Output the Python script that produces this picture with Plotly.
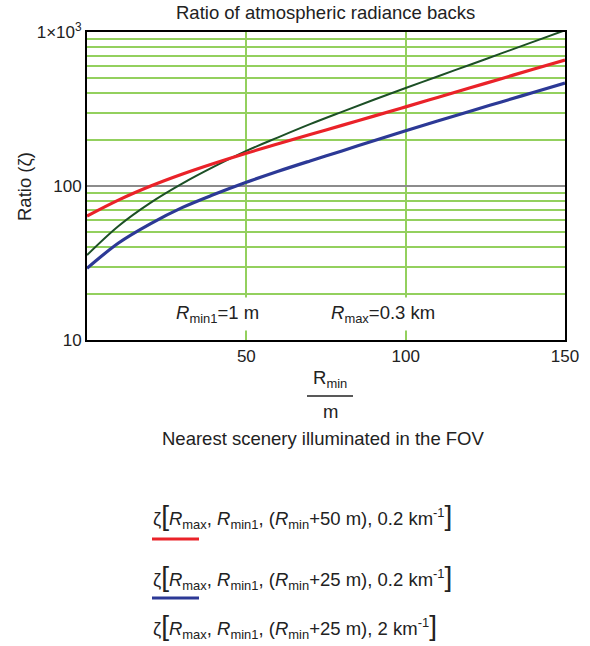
import plotly.graph_objects as go

# Data (R_min in m, ratio zeta)
r_min = [0, 10, 20, 30, 40, 50, 60, 70, 80, 90, 100, 110, 120, 130, 140, 150]
ratio_50m_02 = [63.8, 81.3, 100, 119.7, 140.6, 163.3, 187.9, 215.8, 247.7, 284.4, 326.6, 375.8, 432.5, 497.7, 572.8, 657.7]
ratio_25m_02 = [29.2, 42.8, 57.0, 72.6, 88.3, 105.7, 124.7, 145.5, 169.0, 196.8, 228.6, 264.2, 304.8, 351.6, 404.6, 465.6]
ratio_25m_2 = [35.6, 55.2, 78.0, 104, 134, 169, 207, 252, 303, 363, 433, 514, 611, 726, 863, 1026]

x_ticks = [50, 100, 150]
y_ticks = [10, 100, 1000]
y_tick_text = ["10", "100", "1×10<sup>3</sup>"]
y_minor = [20, 30, 40, 50, 60, 70, 80, 90, 200, 300, 400, 500, 600, 700, 800, 900]

FONT = "Liberation Sans, Arial, Helvetica, sans-serif"
W, H = 590, 646
L, T = 87, 32
PW, PH = 478, 308
R, B = W - L - PW, H - T - PH


def px(x):
    return (x - L) / PW


def py(y):
    return (H - B - y) / PH


fig = go.Figure()
fig.add_trace(go.Scatter(x=r_min, y=ratio_25m_2, mode="lines", line=dict(color="#1c4f26", width=2, shape="spline"),
                         showlegend=False))
fig.add_trace(go.Scatter(x=r_min, y=ratio_50m_02, mode="lines", line=dict(color="#ea2229", width=3.2, shape="spline"),
                         showlegend=False))
fig.add_trace(go.Scatter(x=r_min, y=ratio_25m_02, mode="lines", line=dict(color="#2c3996", width=3.2, shape="spline"),
                         showlegend=False))

fig.update_xaxes(range=[0, 150], tickmode="array", tickvals=x_ticks, ticks="",
                 showgrid=True, gridcolor="#93d05e", gridwidth=2,
                 showline=True, mirror=True, linecolor="black", linewidth=2,
                 zeroline=False, tickfont=dict(size=17, color="#222"))
fig.update_yaxes(type="log", range=[1, 3], tickmode="array", tickvals=y_ticks, ticktext=y_tick_text, ticks="",
                 showgrid=True, gridcolor="#8c8c8c", gridwidth=2,
                 minor=dict(tickmode="array", tickvals=y_minor, showgrid=True, gridcolor="#93d05e", gridwidth=2, ticks=""),
                 showline=True, mirror=True, linecolor="black", linewidth=2,
                 zeroline=False, tickfont=dict(size=17, color="#222"))

ann = []
def add(text, x, y, size=18.5, xanchor="center", **kw):
    ann.append(dict(text=text, x=px(x), y=py(y), xref="paper", yref="paper", showarrow=False,
                    xanchor=xanchor, yanchor="middle", font=dict(size=size, family=FONT, color="#222"), **kw))

add("Ratio of atmospheric radiance backs", 325, 13)
add("Ratio (ζ)", 24, 186, textangle=-90)
add("<i>R</i><sub>min1</sub>=1 m", 217, 314, bgcolor="white", borderpad=4)
add("<i>R</i><sub>max</sub>=0.3 km", 383, 314, bgcolor="white", borderpad=4)
add("R<sub>min</sub>", 330, 379)
add("m", 330, 411)
add("Nearest scenery illuminated in the FOV", 323, 438)

BR_L = '<span style="font-size:28px">[</span>'
BR_R = '<span style="font-size:28px">]</span>'
legend_texts = [
    "ζ" + BR_L + "<i>R</i><sub>max</sub>, <i>R</i><sub>min1</sub>, (<i>R</i><sub>min</sub>+50 m), 0.2 km<sup>-1</sup>" + BR_R,
    "ζ" + BR_L + "<i>R</i><sub>max</sub>, <i>R</i><sub>min1</sub>, (<i>R</i><sub>min</sub>+25 m), 0.2 km<sup>-1</sup>" + BR_R,
    "ζ" + BR_L + "<i>R</i><sub>max</sub>, <i>R</i><sub>min1</sub>, (<i>R</i><sub>min</sub>+25 m), 2 km<sup>-1</sup>" + BR_R,
]
legend_y = [516, 577, 626]
for t, yy in zip(legend_texts, legend_y):
    add(t, 151, yy, xanchor="left")

shapes = [
    dict(type="line", xref="paper", yref="paper", x0=px(307), x1=px(353), y0=py(396), y1=py(396),
         line=dict(color="#222", width=1.3)),
    dict(type="line", xref="paper", yref="paper", x0=px(152), x1=px(199), y0=py(539), y1=py(539),
         line=dict(color="#ea2229", width=3)),
    dict(type="line", xref="paper", yref="paper", x0=px(152), x1=px(199), y0=py(598), y1=py(598),
         line=dict(color="#2c3996", width=3)),
]

fig.update_layout(width=W, height=H, margin=dict(l=L, r=R, t=T, b=B, autoexpand=False),
                  paper_bgcolor="white", plot_bgcolor="white",
                  font=dict(family=FONT, size=18.5, color="#222"),
                  annotations=ann, shapes=shapes, showlegend=False)

fig.write_html("out.html", config={"displayModeBar": False},
               post_script="document.body.style.margin='0';document.body.style.overflow='hidden';")
